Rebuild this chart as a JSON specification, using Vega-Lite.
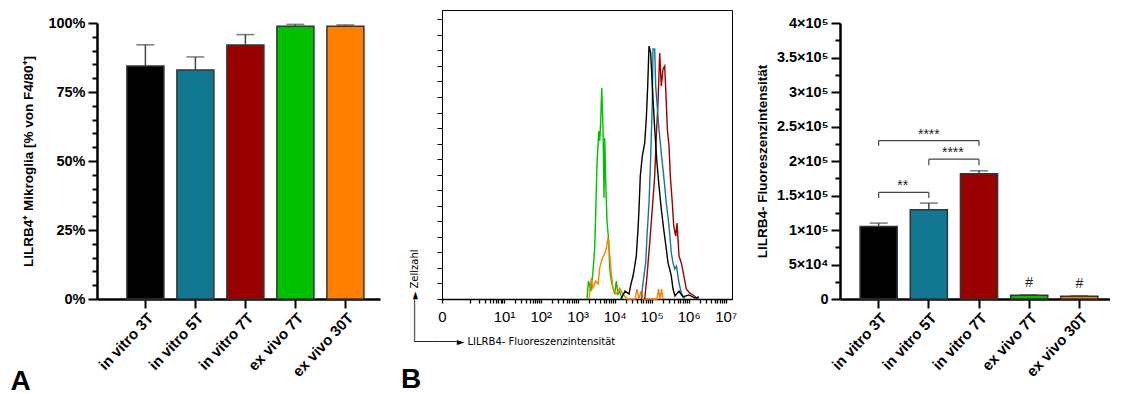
{
"$schema": "https://vega.github.io/schema/vega-lite/v6.json",
"padding": {"left": 10, "top": 9, "right": 0, "bottom": 0},
"background": "white",
"config": {"view": {"stroke": null}, "font": "Liberation Sans", "axis": {"grid": false}},
"datasets": {
"pct": [
{"g": "in vitro 3T", "v": 84.4, "e": 92.1},
{"g": "in vitro 5T", "v": 83.0, "e": 87.7},
{"g": "in vitro 7T", "v": 92.0, "e": 95.8},
{"g": "ex vivo 7T", "v": 98.8, "e": 99.5},
{"g": "ex vivo 30T", "v": 98.8, "e": 99.3}
],
"mfi": [
{"g": "in vitro 3T", "v": 105000, "e": 110000, "h": ""},
{"g": "in vitro 5T", "v": 129500, "e": 139000, "h": ""},
{"g": "in vitro 7T", "v": 181500, "e": 185800, "h": ""},
{"g": "ex vivo 7T", "v": 5300, "e": 6200, "h": "#"},
{"g": "ex vivo 30T", "v": 3900, "e": 4600, "h": "#"}
],
"brk": [
{"a": "in vitro 3T", "b": "in vitro 5T", "mid": "in vitro 3T", "adj": true, "y": 154500, "y0": 146500, "lab": "**"},
{"a": "in vitro 5T", "b": "in vitro 7T", "mid": "in vitro 5T", "adj": true, "y": 202600, "y0": 194000, "lab": "****"},
{"a": "in vitro 3T", "b": "in vitro 7T", "mid": "in vitro 5T", "adj": false, "y": 229600, "y0": 222000, "lab": "****"}
],
"hist": [
{"s": "ex vivo 7T", "x": 1782, "n": 0},
{"s": "ex vivo 7T", "x": 1959, "n": 11.6},
{"s": "ex vivo 7T", "x": 2286, "n": 5.1},
{"s": "ex vivo 7T", "x": 2594, "n": 18},
{"s": "ex vivo 7T", "x": 2879, "n": 32.8},
{"s": "ex vivo 7T", "x": 3062, "n": 54.7},
{"s": "ex vivo 7T", "x": 3327, "n": 86.9},
{"s": "ex vivo 7T", "x": 3698, "n": 108},
{"s": "ex vivo 7T", "x": 3936, "n": 101.7},
{"s": "ex vivo 7T", "x": 4188, "n": 114.5},
{"s": "ex vivo 7T", "x": 4456, "n": 135.8},
{"s": "ex vivo 7T", "x": 4831, "n": 110},
{"s": "ex vivo 7T", "x": 5140, "n": 65},
{"s": "ex vivo 7T", "x": 5370, "n": 103.6},
{"s": "ex vivo 7T", "x": 5715, "n": 75.9},
{"s": "ex vivo 7T", "x": 6194, "n": 50.2},
{"s": "ex vivo 7T", "x": 6887, "n": 37.3},
{"s": "ex vivo 7T", "x": 7328, "n": 19.9},
{"s": "ex vivo 7T", "x": 8091, "n": 11.6},
{"s": "ex vivo 7T", "x": 8995, "n": 7},
{"s": "ex vivo 7T", "x": 10000, "n": 3.2},
{"s": "ex vivo 7T", "x": 11040, "n": 11.6},
{"s": "ex vivo 7T", "x": 12270, "n": 3.2},
{"s": "ex vivo 7T", "x": 13650, "n": 5.1},
{"s": "ex vivo 7T", "x": 15740, "n": 0},
{"s": "ex vivo 30T", "x": 2018, "n": 0},
{"s": "ex vivo 30T", "x": 2333, "n": 13.5},
{"s": "ex vivo 30T", "x": 2594, "n": 7},
{"s": "ex vivo 30T", "x": 3062, "n": 11.6},
{"s": "ex vivo 30T", "x": 3539, "n": 9.7},
{"s": "ex vivo 30T", "x": 3936, "n": 19.9},
{"s": "ex vivo 30T", "x": 4624, "n": 26.4},
{"s": "ex vivo 30T", "x": 5370, "n": 29},
{"s": "ex vivo 30T", "x": 5929, "n": 32.8},
{"s": "ex vivo 30T", "x": 6592, "n": 39.3},
{"s": "ex vivo 30T", "x": 7328, "n": 29},
{"s": "ex vivo 30T", "x": 8091, "n": 16.1},
{"s": "ex vivo 30T", "x": 8995, "n": 7},
{"s": "ex vivo 30T", "x": 10840, "n": 3.2},
{"s": "ex vivo 30T", "x": 13650, "n": 7},
{"s": "ex vivo 30T", "x": 16750, "n": 3.2},
{"s": "ex vivo 30T", "x": 21490, "n": 0},
{"s": "ex vivo 30T", "x": 35380, "n": 0},
{"s": "ex vivo 30T", "x": 40090, "n": 6.4},
{"s": "ex vivo 30T", "x": 45400, "n": 0},
{"s": "ex vivo 30T", "x": 51400, "n": 5.1},
{"s": "ex vivo 30T", "x": 58200, "n": 0},
{"s": "ex vivo 30T", "x": 139000, "n": 0},
{"s": "ex vivo 30T", "x": 152700, "n": 6.4},
{"s": "ex vivo 30T", "x": 167500, "n": 0},
{"s": "ex vivo 30T", "x": 184000, "n": 6.4},
{"s": "ex vivo 30T", "x": 201800, "n": 0},
{"s": "in vitro 7T", "x": 64700, "n": 0},
{"s": "in vitro 7T", "x": 74650, "n": 14.8},
{"s": "in vitro 7T", "x": 88310, "n": 36},
{"s": "in vitro 7T", "x": 103800, "n": 57.9},
{"s": "in vitro 7T", "x": 120500, "n": 79.2},
{"s": "in vitro 7T", "x": 133000, "n": 104.9},
{"s": "in vitro 7T", "x": 148000, "n": 126.1},
{"s": "in vitro 7T", "x": 164400, "n": 158.3},
{"s": "in vitro 7T", "x": 181600, "n": 137},
{"s": "in vitro 7T", "x": 201800, "n": 148},
{"s": "in vitro 7T", "x": 224400, "n": 150},
{"s": "in vitro 7T", "x": 248300, "n": 126.1},
{"s": "in vitro 7T", "x": 264200, "n": 109.4},
{"s": "in vitro 7T", "x": 293800, "n": 98.5},
{"s": "in vitro 7T", "x": 318400, "n": 79.2},
{"s": "in vitro 7T", "x": 360600, "n": 61.8},
{"s": "in vitro 7T", "x": 393600, "n": 47},
{"s": "in vitro 7T", "x": 445700, "n": 40.5},
{"s": "in vitro 7T", "x": 483100, "n": 48.9},
{"s": "in vitro 7T", "x": 547000, "n": 27.7},
{"s": "in vitro 7T", "x": 631000, "n": 23.2},
{"s": "in vitro 7T", "x": 701500, "n": 18},
{"s": "in vitro 7T", "x": 861000, "n": 6.4},
{"s": "in vitro 7T", "x": 1064000, "n": 3.9},
{"s": "in vitro 7T", "x": 1306000, "n": 2.6},
{"s": "in vitro 7T", "x": 1782000, "n": 0},
{"s": "in vitro 5T", "x": 52360, "n": 0},
{"s": "in vitro 5T", "x": 58200, "n": 10.3},
{"s": "in vitro 5T", "x": 68870, "n": 23.2},
{"s": "in vitro 5T", "x": 74650, "n": 40.5},
{"s": "in vitro 5T", "x": 84530, "n": 61.8},
{"s": "in vitro 5T", "x": 91620, "n": 83.7},
{"s": "in vitro 5T", "x": 97520, "n": 104.9},
{"s": "in vitro 5T", "x": 103800, "n": 126.1},
{"s": "in vitro 5T", "x": 108400, "n": 160.9},
{"s": "in vitro 5T", "x": 120500, "n": 160.9},
{"s": "in vitro 5T", "x": 128200, "n": 137},
{"s": "in vitro 5T", "x": 139000, "n": 126.1},
{"s": "in vitro 5T", "x": 157400, "n": 109.4},
{"s": "in vitro 5T", "x": 181600, "n": 94},
{"s": "in vitro 5T", "x": 210900, "n": 79.2},
{"s": "in vitro 5T", "x": 248300, "n": 61.8},
{"s": "in vitro 5T", "x": 293800, "n": 47},
{"s": "in vitro 5T", "x": 338800, "n": 29.6},
{"s": "in vitro 5T", "x": 376700, "n": 23.2},
{"s": "in vitro 5T", "x": 418800, "n": 19.3},
{"s": "in vitro 5T", "x": 467700, "n": 21.2},
{"s": "in vitro 5T", "x": 547000, "n": 10.3},
{"s": "in vitro 5T", "x": 631000, "n": 3.9},
{"s": "in vitro 5T", "x": 779800, "n": 0},
{"s": "in vitro 3T", "x": 14800, "n": 0},
{"s": "in vitro 3T", "x": 18970, "n": 5.1},
{"s": "in vitro 3T", "x": 24320, "n": 3.2},
{"s": "in vitro 3T", "x": 27600, "n": 9.7},
{"s": "in vitro 3T", "x": 31260, "n": 14.8},
{"s": "in vitro 3T", "x": 34750, "n": 21.2},
{"s": "in vitro 3T", "x": 38370, "n": 27.7},
{"s": "in vitro 3T", "x": 42660, "n": 45},
{"s": "in vitro 3T", "x": 45400, "n": 57.9},
{"s": "in vitro 3T", "x": 49200, "n": 79.2},
{"s": "in vitro 3T", "x": 55700, "n": 92},
{"s": "in vitro 3T", "x": 64700, "n": 100.4},
{"s": "in vitro 3T", "x": 71450, "n": 115.8},
{"s": "in vitro 3T", "x": 77960, "n": 137},
{"s": "in vitro 3T", "x": 84530, "n": 162.8},
{"s": "in vitro 3T", "x": 93970, "n": 158.3},
{"s": "in vitro 3T", "x": 103800, "n": 137},
{"s": "in vitro 3T", "x": 120500, "n": 109.4},
{"s": "in vitro 3T", "x": 139000, "n": 87.5},
{"s": "in vitro 3T", "x": 157400, "n": 72.7},
{"s": "in vitro 3T", "x": 181600, "n": 57.9},
{"s": "in vitro 3T", "x": 210900, "n": 45},
{"s": "in vitro 3T", "x": 248300, "n": 32.2},
{"s": "in vitro 3T", "x": 276000, "n": 23.2},
{"s": "in vitro 3T", "x": 306400, "n": 19.3},
{"s": "in vitro 3T", "x": 338800, "n": 14.8},
{"s": "in vitro 3T", "x": 376700, "n": 6.4},
{"s": "in vitro 3T", "x": 426600, "n": 1.9},
{"s": "in vitro 3T", "x": 547000, "n": 5.1},
{"s": "in vitro 3T", "x": 701500, "n": 1.3},
{"s": "in vitro 3T", "x": 1018000, "n": 2.6},
{"s": "in vitro 3T", "x": 1479000, "n": 0.6},
{"s": "in vitro 3T", "x": 1897000, "n": 1.3}
]
},
"spacing": 17,
"hconcat": [
{
"spacing": 20,
"hconcat": [
{
"bounds": "flush",
"spacing": 12,
"vconcat": [
{"width": 283, "height": 1, "data": {"values": []}, "mark": {"type": "rule"}, "encoding": {}},
{
"width": 283, "height": 276,
"data": {"name": "pct"},
"resolve": {"axis": {"y": "independent"}},
"encoding": {
"x": {"field": "g", "type": "nominal",
"scale": {"domain": ["in vitro 3T", "in vitro 5T", "in vitro 7T", "ex vivo 7T", "ex vivo 30T"], "paddingInner": 0.26, "paddingOuter": 0.46, "align": 0.65},
"axis": {"title": "A", "titleFont": "Liberation Sans", "titleFontSize": 28, "titleFontWeight": "bold", "titleColor": "#000", "titleX": -87, "titleY": 90, "titleAlign": "left", "titleBaseline": "alphabetic", "titleAngle": 0,
"labelAngle": -47, "labelAlign": "right", "labelBaseline": "top", "labelFont": "Liberation Sans", "labelFontSize": 15, "labelFontWeight": "bold", "labelColor": "#000", "labelPadding": 2,
"tickSize": 9, "tickWidth": 2, "tickColor": "#000", "domainWidth": 2.5, "domainColor": "#000"}}
},
"layer": [
{"mark": {"type": "bar", "stroke": "#333", "strokeWidth": 1.5},
"encoding": {
"y": {"field": "v", "type": "quantitative", "scale": {"domain": [0, 100], "nice": false},
"axis": {"values": [0, 5, 10, 15, 20, 25, 30, 35, 40, 45, 50, 55, 60, 65, 70, 75, 80, 85, 90, 95, 100],
"labelExpr": "datum.value % 25 == 0 ? datum.value + '%' : ''",
"tickSize": {"condition": {"test": "datum.value % 25 == 0", "value": 9}, "value": 5},
"tickWidth": 2, "tickColor": "#000", "domainWidth": 2.5, "domainColor": "#000",
"labelFont": "Liberation Sans", "labelFontSize": 14.5, "labelFontWeight": "bold", "labelColor": "#000", "labelPadding": 3,
"title": "LILRB4⁺ Mikroglia [% von F4/80⁺]", "titleFont": "Liberation Sans", "titleFontSize": 13.5, "titleFontWeight": "bold", "titleColor": "#000", "titlePadding": 12}},
"color": {"field": "g", "type": "nominal", "scale": {"domain": ["in vitro 3T", "in vitro 5T", "in vitro 7T", "ex vivo 7T", "ex vivo 30T"], "range": ["#000000", "#127891", "#990000", "#00c000", "#ff8000"]}, "legend": null}
}},
{"mark": {"type": "rule", "color": "#444", "strokeWidth": 1.5},
"encoding": {"y": {"field": "v", "type": "quantitative", "axis": null}, "y2": {"field": "e"}}},
{"mark": {"type": "tick", "color": "#444", "thickness": 1.5, "size": 18},
"encoding": {"y": {"field": "e", "type": "quantitative", "axis": null}}}
]
}
]
},
{
"width": 290, "height": 289,
"view": {"stroke": "#000", "strokeWidth": 1},
"title": {"text": "B", "orient": "bottom", "anchor": "start", "frame": "group", "dx": -41, "offset": 20, "font": "Liberation Sans", "fontSize": 28, "fontWeight": "bold", "color": "#000"},
"data": {"name": "hist"},
"mark": {"type": "line", "strokeWidth": 1.4},
"encoding": {
"x": {"field": "x", "type": "quantitative",
"scale": {"type": "symlog", "constant": 0.215, "domain": [0, 14800000], "nice": false},
"axis": {"values": [0, 1, 2, 3, 4, 5, 6, 7, 8, 9, 10, 20, 30, 40, 50, 60, 70, 80, 90, 100, 200, 300, 400, 500, 600, 700, 800, 900, 1000, 2000, 3000, 4000, 5000, 6000, 7000, 8000, 9000, 10000, 20000, 30000, 40000, 50000, 60000, 70000, 80000, 90000, 100000, 200000, 300000, 400000, 500000, 600000, 700000, 800000, 900000, 1000000, 2000000, 3000000, 4000000, 5000000, 6000000, 7000000, 8000000, 9000000, 10000000],
"labelExpr": "datum.value == 0 ? '0' : datum.value == 10 ? '10¹' : datum.value == 100 ? '10²' : datum.value == 1000 ? '10³' : datum.value == 10000 ? '10⁴' : datum.value == 100000 ? '10⁵' : datum.value == 1000000 ? '10⁶' : datum.value == 10000000 ? '10⁷' : ''",
"labelOverlap": false, "labelBound": false, "labelFlush": false,
"labelFont": "Liberation Sans", "labelFontSize": 15, "labelColor": "#000", "labelPadding": 6,
"ticks": true, "tickSize": 4, "tickWidth": 1.3, "tickColor": "#000", "domainWidth": 1.5, "domainColor": "#000",
"title": "───────► LILRB4- Fluoreszenzintensität", "titleFont": "DejaVu Sans", "titleFontSize": 10, "titleFontWeight": "normal", "titleColor": "#000",
"titleX": -28, "titleY": 45, "titleAlign": "left", "titleBaseline": "alphabetic"}},
"y": {"field": "n", "type": "quantitative",
"scale": {"domain": [0, 186], "nice": false},
"axis": {"values": [0, 10, 20, 30, 40, 50, 60, 70, 80, 90, 100, 110, 120, 130, 140, 150, 160, 170, 180],
"labels": false, "tickSize": 5, "tickWidth": 1, "tickColor": "#000", "domainColor": "#000", "domainWidth": 1,
"title": "───────► Zellzahl", "titleFont": "DejaVu Sans", "titleFontSize": 10, "titleFontWeight": "normal", "titleColor": "#000",
"titleAngle": 270, "titleX": -25, "titleY": 331, "titleAlign": "left", "titleBaseline": "alphabetic"}},
"color": {"field": "s", "type": "nominal", "scale": {"domain": ["ex vivo 7T", "ex vivo 30T", "in vitro 7T", "in vitro 5T", "in vitro 3T"], "range": ["#2ec22e", "#ff8a00", "#a00000", "#13809a", "#000000"]}, "legend": null}
}
}
]
},
{
"bounds": "flush",
"spacing": 12,
"vconcat": [
{"width": 270, "height": 1, "data": {"values": []}, "mark": {"type": "rule"}, "encoding": {}},
{
"width": 270, "height": 276,
"data": {"name": "mfi"},
"resolve": {"axis": {"y": "independent"}},
"encoding": {
"x": {"field": "g", "type": "nominal",
"scale": {"domain": ["in vitro 3T", "in vitro 5T", "in vitro 7T", "ex vivo 7T", "ex vivo 30T"], "paddingInner": 0.26, "paddingOuter": 0.32, "align": 0.625},
"axis": {"title": null,
"labelAngle": -47, "labelAlign": "right", "labelBaseline": "top", "labelFont": "Liberation Sans", "labelFontSize": 15, "labelFontWeight": "bold", "labelColor": "#000", "labelPadding": 2,
"tickSize": 9, "tickWidth": 2, "tickColor": "#000", "domainWidth": 2.5, "domainColor": "#000"}}
},
"layer": [
{"mark": {"type": "bar", "stroke": "#333", "strokeWidth": 1.5},
"encoding": {
"y": {"field": "v", "type": "quantitative", "scale": {"domain": [0, 400000], "nice": false},
"axis": {"values": [0, 25000, 50000, 75000, 100000, 125000, 150000, 175000, 200000, 225000, 250000, 275000, 300000, 325000, 350000, 375000, 400000],
"labelExpr": "datum.value == 0 ? '0' : datum.value % 50000 != 0 ? '' : datum.value < 100000 ? (datum.value / 10000) + '×10⁴' : (datum.value / 100000) + '×10⁵'",
"tickSize": {"condition": {"test": "datum.value % 50000 == 0", "value": 9}, "value": 5},
"tickWidth": 2, "tickColor": "#000", "domainWidth": 2.5, "domainColor": "#000",
"labelFont": "Liberation Sans", "labelFontSize": 14.5, "labelFontWeight": "bold", "labelColor": "#000", "labelPadding": 3,
"title": "LILRB4- Fluoreszenzintensität", "titleFont": "Liberation Sans", "titleFontSize": 13.5, "titleFontWeight": "bold", "titleColor": "#000", "titlePadding": 7}},
"color": {"field": "g", "type": "nominal", "scale": {"domain": ["in vitro 3T", "in vitro 5T", "in vitro 7T", "ex vivo 7T", "ex vivo 30T"], "range": ["#000000", "#127891", "#990000", "#00c000", "#ff8000"]}, "legend": null}
}},
{"mark": {"type": "rule", "color": "#444", "strokeWidth": 1.5},
"encoding": {"y": {"field": "v", "type": "quantitative", "axis": null}, "y2": {"field": "e"}}},
{"mark": {"type": "tick", "color": "#444", "thickness": 1.5, "size": 18},
"encoding": {"y": {"field": "e", "type": "quantitative", "axis": null}}},
{"mark": {"type": "text", "font": "Liberation Sans", "fontSize": 14, "color": "#222", "baseline": "alphabetic", "dy": -8},
"encoding": {"y": {"field": "e", "type": "quantitative", "axis": null}, "text": {"field": "h"}}},
{"data": {"name": "brk"},
"mark": {"type": "rule", "color": "#444", "strokeWidth": 1.2},
"encoding": {"x": {"field": "a", "type": "nominal"}, "x2": {"field": "b"}, "y": {"field": "y", "type": "quantitative", "axis": null}}},
{"data": {"name": "brk"},
"transform": [{"fold": ["a", "b"], "as": ["end", "cat"]}],
"mark": {"type": "rule", "color": "#444", "strokeWidth": 1.2},
"encoding": {"x": {"field": "cat", "type": "nominal"}, "y": {"field": "y", "type": "quantitative", "axis": null}, "y2": {"field": "y0"}}},
{"data": {"name": "brk"},
"transform": [{"filter": "datum.adj"}],
"mark": {"type": "text", "font": "Liberation Sans", "fontSize": 14, "color": "#222", "baseline": "alphabetic", "dy": -2, "dx": 24},
"encoding": {"x": {"field": "mid", "type": "nominal"}, "y": {"field": "y", "type": "quantitative", "axis": null}, "text": {"field": "lab"}}},
{"data": {"name": "brk"},
"transform": [{"filter": "!datum.adj"}],
"mark": {"type": "text", "font": "Liberation Sans", "fontSize": 14, "color": "#222", "baseline": "alphabetic", "dy": -2},
"encoding": {"x": {"field": "mid", "type": "nominal"}, "y": {"field": "y", "type": "quantitative", "axis": null}, "text": {"field": "lab"}}}
]
}
]
}
]
}
